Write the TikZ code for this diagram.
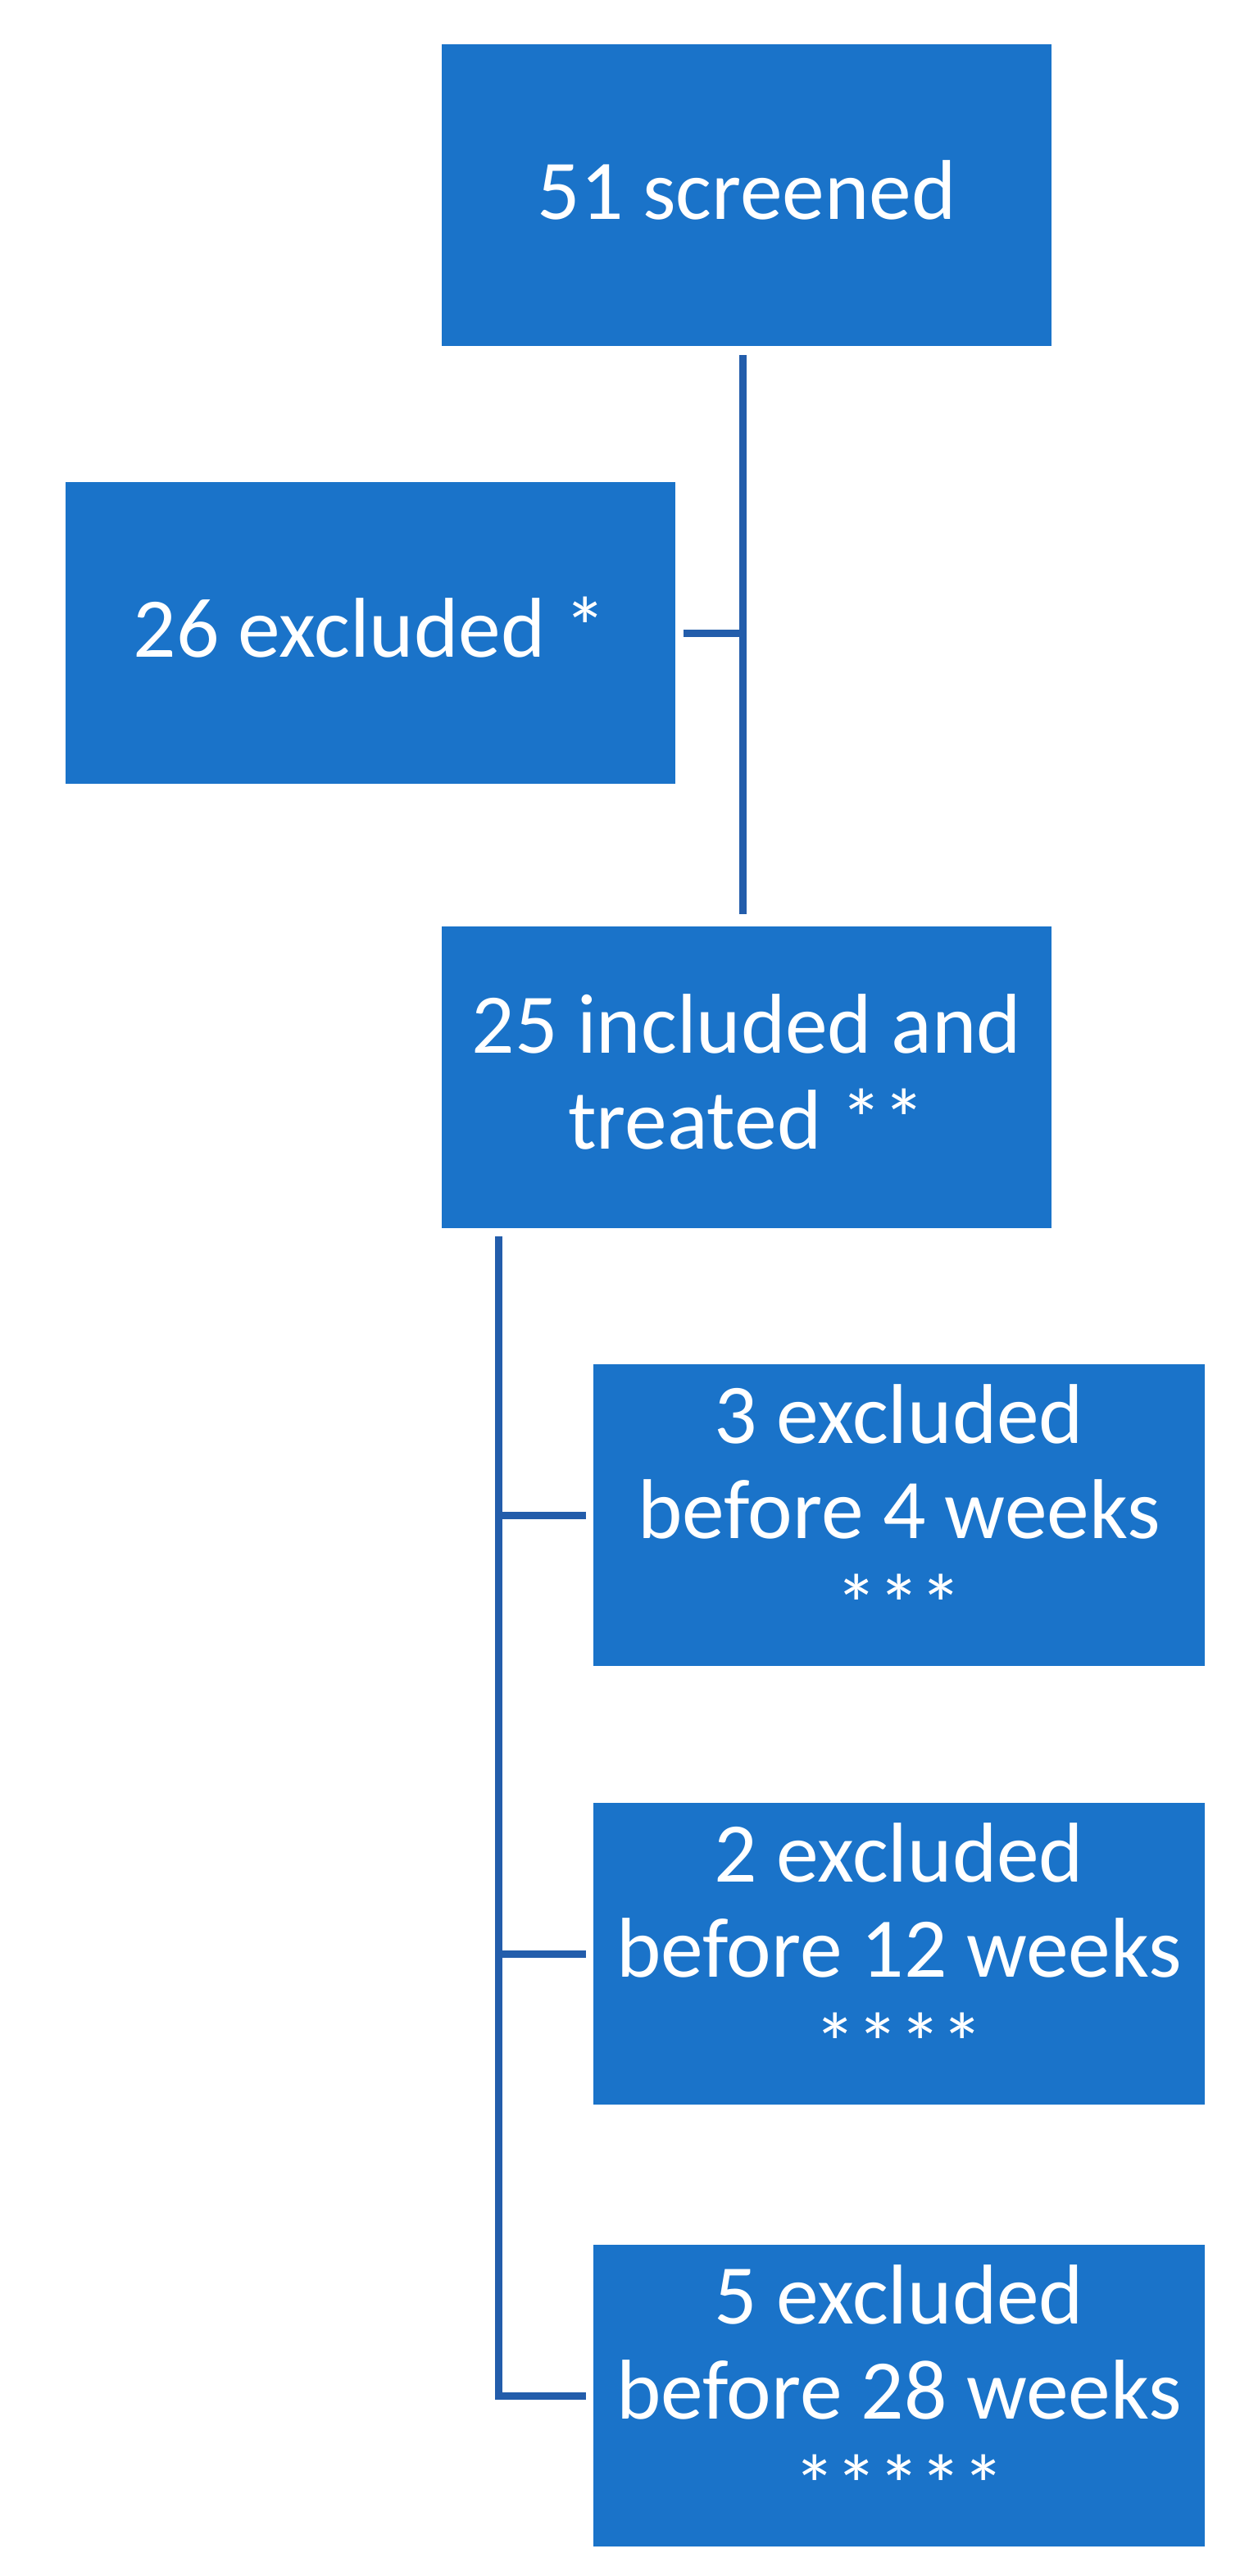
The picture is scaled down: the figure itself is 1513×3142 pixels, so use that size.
\documentclass[tikz,border=0pt]{standalone}
\usepackage{fontspec}
\setmainfont{Carlito}
\usetikzlibrary{calc}
\definecolor{boxblue}{HTML}{1A73C9}
\definecolor{lineblue}{HTML}{235DAB}
\newcommand{\boxlines}[1]{\begin{tabular}[b]{@{}c@{}}#1\end{tabular}}
\tikzset{
  fbox/.style={fill=boxblue, draw=none, minimum width=372pt, minimum height=184pt,
    inner sep=0pt, text=white, font=\fontsize{51.75}{58.25}\selectfont, text depth=0pt},
  oneline/.style={text height=29pt},
  twolines/.style={text height=87pt},
  threelines/.style={text height=145pt},
  conn/.style={draw=lineblue, line width=4.5pt},
}
\begin{document}
\begin{tikzpicture}[x=0.5pt,y=-0.5pt]
\useasboundingbox[fill=white] (0,0) rectangle (1513,3142);
\node[fbox,oneline] (b1) at (911,238) {\boxlines{51 screened}};
\node[fbox,oneline] (b2) at (451.5,772) {\boxlines{26 excluded *}};
\node[fbox,twolines] (b3) at (911,1314) {\boxlines{25 included and\\treated **}};
\node[fbox,threelines,minimum width=373pt] (b4) at (1097,1848) {\boxlines{3 excluded\\before 4 weeks\\{}***}};
\node[fbox,threelines,minimum width=373pt] (b5) at (1097,2383) {\boxlines{2 excluded\\before 12 weeks\\{}****}};
\node[fbox,threelines,minimum width=373pt] (b6) at (1097,2922) {\boxlines{5 excluded\\before 28 weeks\\{}*****}};
\coordinate (j1) at (906,772);
\coordinate (j2) at (608,1848);
\draw[conn] ($(b1.south -| j1)+(0,11)$) -- ($(b3.north -| j1)+(0,-15)$);
\draw[conn] ($(b2.east)+(10,0)$) -- (b2.east -| j1);
\draw[conn] ($(b3.south -| j2)+(0,10)$) -- (b6.west -| j2) -- ($(b6.west)+(-9,0)$);
\draw[conn] (b4.west -| j2) -- ($(b4.west)+(-9,0)$);
\draw[conn] (b5.west -| j2) -- ($(b5.west)+(-9,0)$);
\end{tikzpicture}
\end{document}
